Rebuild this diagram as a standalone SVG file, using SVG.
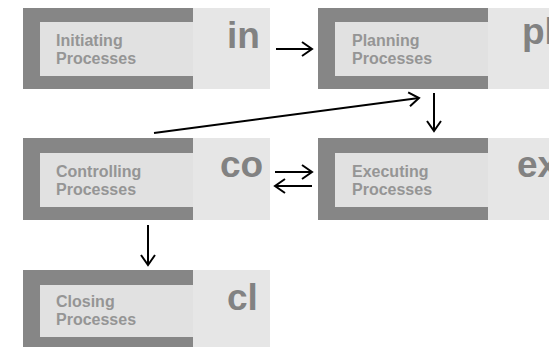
<svg xmlns="http://www.w3.org/2000/svg" width="549" height="347" viewBox="0 0 549 347">
  <style>
    .bg { fill: #e6e6e6; }
    .frame { fill: #868686; }
    .inner { fill: #e1e1e1; }
    .label { font-family: "Liberation Sans", Arial, sans-serif; font-weight: bold; font-size: 16px; fill: #959595; }
    .tag { font-family: "Liberation Sans", Arial, sans-serif; font-weight: bold; font-size: 37px; fill: #828282; }
    .conn { stroke: #000; stroke-width: 2; fill: none; }
  </style>
  <defs>
    <marker id="head" markerUnits="userSpaceOnUse" viewBox="-12 -9 14 18" refX="0" refY="0" markerWidth="14" markerHeight="18" orient="auto">
      <path d="M-10,-7 L0,0 L-10,7" fill="none" stroke="#000" stroke-width="2" stroke-linejoin="miter"/>
    </marker>
  </defs>
  <rect width="549" height="347" fill="#ffffff"/>

  <g id="initiating">
    <rect class="bg" x="23" y="8" width="247" height="81"/>
    <rect class="frame" x="23" y="8" width="170" height="81"/>
    <rect class="inner" x="40" y="22" width="153" height="54"/>
    <text class="label" x="56" y="46">Initiating</text>
    <text class="label" x="56" y="64">Processes</text>
    <text class="tag" x="227" y="48">in</text>
  </g>

  <g id="planning">
    <rect class="bg" x="318" y="8" width="231" height="81"/>
    <rect class="frame" x="318" y="8" width="170" height="81"/>
    <rect class="inner" x="335" y="22" width="153" height="54"/>
    <text class="label" x="352" y="46">Planning</text>
    <text class="label" x="352" y="64">Processes</text>
    <text class="tag" x="522" y="44">pl</text>
  </g>

  <g id="controlling">
    <rect class="bg" x="23" y="138" width="247" height="82"/>
    <rect class="frame" x="23" y="138" width="170" height="82"/>
    <rect class="inner" x="40" y="153" width="153" height="54"/>
    <text class="label" x="56" y="177">Controlling</text>
    <text class="label" x="56" y="195">Processes</text>
    <text class="tag" x="220" y="177">co</text>
  </g>

  <g id="executing">
    <rect class="bg" x="318" y="138" width="231" height="82"/>
    <rect class="frame" x="318" y="138" width="170" height="82"/>
    <rect class="inner" x="335" y="153" width="153" height="54"/>
    <text class="label" x="352" y="177">Executing</text>
    <text class="label" x="352" y="195">Processes</text>
    <text class="tag" x="517" y="177">ex</text>
  </g>

  <g id="closing">
    <rect class="bg" x="23" y="270" width="247" height="77"/>
    <rect class="frame" x="23" y="270" width="170" height="77"/>
    <rect class="inner" x="40" y="285" width="153" height="52"/>
    <text class="label" x="56" y="307">Closing</text>
    <text class="label" x="56" y="325">Processes</text>
    <text class="tag" x="227" y="310">cl</text>
  </g>

  <g id="connectors">
    <line class="conn" x1="276" y1="49" x2="312" y2="49" marker-end="url(#head)"/>
    <line class="conn" x1="434" y1="93" x2="434" y2="131" marker-end="url(#head)"/>
    <line class="conn" x1="154" y1="133" x2="419" y2="98" marker-end="url(#head)"/>
    <line class="conn" x1="275" y1="172" x2="312" y2="172" marker-end="url(#head)"/>
    <line class="conn" x1="312" y1="186" x2="275" y2="186" marker-end="url(#head)"/>
    <line class="conn" x1="148" y1="225" x2="148" y2="265" marker-end="url(#head)"/>
  </g>
</svg>
